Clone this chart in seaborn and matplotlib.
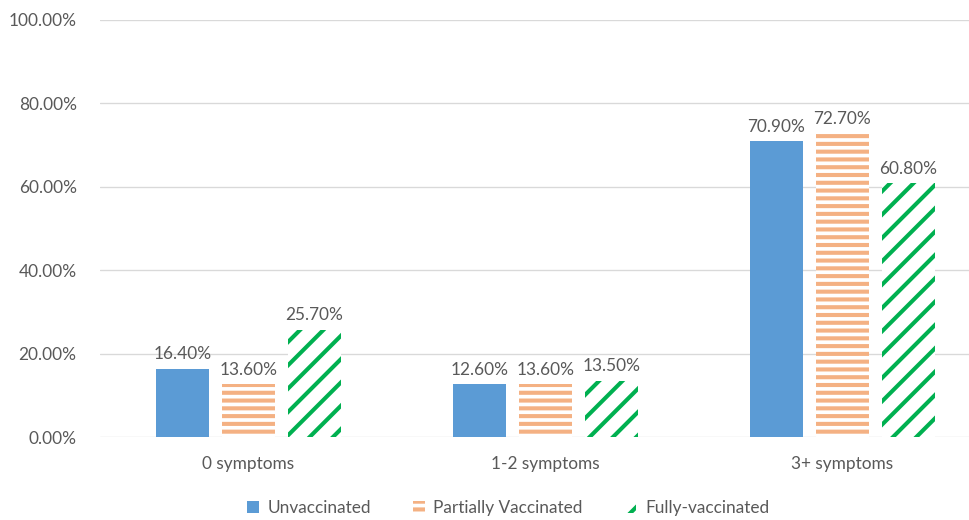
import pandas as pd
import matplotlib
matplotlib.use('Agg')
import matplotlib.pyplot as plt
from matplotlib.patches import Patch
import seaborn as sns

# data
categories = ['0 symptoms', '1-2 symptoms', '3+ symptoms']
groups = ['Unvaccinated', 'Partially Vaccinated', 'Fully-vaccinated']
unvaccinated = [16.4, 12.6, 70.9]
partially = [12.6, 12.6, 72.7]      # bar heights as drawn
fully = [25.7, 13.5, 60.8]
# data labels as printed on the chart
label_text = {
    'Unvaccinated': ['16.40%', '12.60%', '70.90%'],
    'Partially Vaccinated': ['13.60%', '13.60%', '72.70%'],
    'Fully-vaccinated': ['25.70%', '13.50%', '60.80%'],
}
y_ticks = [0, 20, 40, 60, 80, 100]

df = pd.DataFrame({
    'category': categories * 3,
    'group': [g for g in groups for _ in categories],
    'value': unvaccinated + partially + fully,
})

sns.set_theme(style='white')
plt.rcParams['font.family'] = ['Lato', 'DejaVu Sans']
plt.rcParams['hatch.linewidth'] = 2.1

DPI = 140
fs = 8.9
grey = '#595959'
colors = {'Unvaccinated': '#5b9bd5',
          'Partially Vaccinated': '#f4b183',
          'Fully-vaccinated': '#00b050'}

fig = plt.figure(figsize=(969 / DPI, 520 / DPI), dpi=DPI)
ax = fig.add_axes([100 / 969, 83 / 520, 891 / 969, 417 / 520])

sns.barplot(data=df, x='category', y='value', hue='group', hue_order=groups,
            palette=colors, width=0.667, gap=0.21, ax=ax, legend=False)

# styling of each series: solid / horizontal stripes / diagonal stripes
styles = {
    'Unvaccinated': dict(facecolor=colors['Unvaccinated'], edgecolor=colors['Unvaccinated'], hatch=None),
    'Partially Vaccinated': dict(facecolor='white', edgecolor=colors['Partially Vaccinated'], hatch='---'),
    'Fully-vaccinated': dict(facecolor='white', edgecolor=colors['Fully-vaccinated'], hatch='//'),
}
for cont, g in zip(ax.containers, groups):
    for bar in cont:
        bar.set_facecolor(styles[g]['facecolor'])
        bar.set_edgecolor(styles[g]['edgecolor'])
        bar.set_hatch(styles[g]['hatch'])
        bar.set_linewidth(0)
    ax.bar_label(cont, labels=label_text[g], padding=3.5, fontsize=fs, color=grey)

ax.set_ylim(0, 100)
ax.set_yticks(y_ticks)
ax.set_yticklabels([f'{t:.2f}%' for t in y_ticks], fontsize=fs, color=grey)
ax.set_xlim(-0.5, 2.5)
ax.tick_params(axis='x', labelsize=fs, colors=grey, pad=10, length=0)
ax.tick_params(axis='y', pad=12, length=0)
ax.set_xlabel('')
ax.set_ylabel('')
ax.yaxis.grid(True, color='#d9d9d9', linewidth=0.7)
ax.set_axisbelow(True)
for s in ax.spines.values():
    s.set_visible(False)

handles = [Patch(label=g, linewidth=0, **styles[g]) for g in groups]
fig.legend(handles=handles, loc='center', bbox_to_anchor=(508 / 969, 12 / 520),
           ncol=3, frameon=False, fontsize=fs, labelcolor=grey,
           handlelength=0.7, handleheight=0.7, handletextpad=0.5, columnspacing=2.4)

plt.savefig('out.png', dpi=DPI)
